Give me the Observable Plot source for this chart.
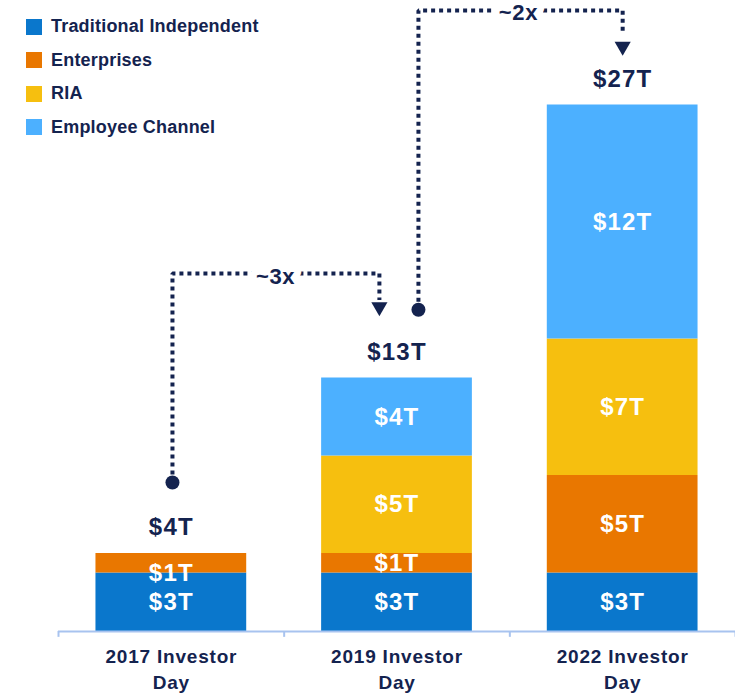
<!DOCTYPE html>
<html><head><meta charset="utf-8">
<script src="https://cdn.jsdelivr.net/npm/d3@7"></script>
<script src="https://cdn.jsdelivr.net/npm/@observablehq/plot@0.6"></script>
<style>
body{margin:0;background:#fff;font-family:"Liberation Sans",Arial,sans-serif;}
#wrap{position:relative;width:735px;height:697px;}
#legend{position:absolute;left:26px;top:18px;}
.row{display:flex;align-items:center;height:33.5px;margin-top:-8px;margin-bottom:8px;}
.sw{width:16px;height:16px;margin-right:9px;}
.lab{font-size:18px;font-weight:bold;color:#14234f;letter-spacing:0.2px;}
.barlab text{letter-spacing:1.2px;}
.axlab text{letter-spacing:0.8px;}
.glab text{letter-spacing:0.6px;}
</style></head><body><div id="wrap"><div id="legend"></div></div>
<script>
const categories = ["2017 Investor\nDay", "2019 Investor\nDay", "2022 Investor\nDay"];
const seriesNames = ["Traditional Independent", "Enterprises", "RIA", "Employee Channel"];
const traditional = [3, 3, 3];
const enterprises = [1, 1, 5];
const ria = [0, 5, 7];
const employee = [0, 4, 12];
const totals = [4, 13, 27];
const colors = ["#0a77cc", "#e97700", "#f6bf0f", "#4cb0ff"];
const navy = "#14234f";
// growth annotations (data coordinates: x = category index, y = $T)
const growthLabels = ["~3x", "~2x"];
const growthPaths = [
  [{x: 0.005, y: 7.64}, {x: 0.005, y: 18.36}, {x: 0.922, y: 18.36}, {x: 0.922, y: 17.0}],
  [{x: 1.095, y: 16.5}, {x: 1.095, y: 31.85}, {x: 2.0, y: 31.85}, {x: 2.0, y: 30.7}]
];
const growthLabelPos = [{x: 0.462, y: 18.36}, {x: 1.538, y: 31.85}];
const arrowTips = [{x: 0.922, y: 16.65}, {x: 2.0, y: 30.0}];

const seriesValues = [traditional, enterprises, ria, employee];
const rows = [];
categories.forEach((c, i) => {
  let acc = 0;
  seriesValues.forEach((vals, s) => {
    const v = vals[i];
    if (v > 0) rows.push({i, s, v, y1: acc, y2: acc + v});
    acc += v;
  });
});
const half = 0.334;

const chart = Plot.plot({
  width: 735, height: 697,
  marginTop: 7, marginBottom: 66, marginLeft: 58, marginRight: 0,
  x: {domain: [-0.5, 2.5], axis: null},
  y: {domain: [0, 32], axis: null},
  style: {fontFamily: "'Liberation Sans', Arial, sans-serif", background: "#fff", overflow: "visible"},
  marks: [
    Plot.rect(rows, {x1: d => d.i - half, x2: d => d.i + half, y1: "y1", y2: "y2", fill: d => colors[d.s]}),
    Plot.text(rows, {x: "i", y: d => (d.y1 + d.y2) / 2, text: d => `$${d.v}T`, dy: 0, fill: "white", fontSize: 24, fontWeight: "bold", className: "barlab",
      filter: d => !(d.i === 0 && d.s === 1)}),
    Plot.text(rows, {x: "i", y: "y1", text: d => `$${d.v}T`, fill: "white", fontSize: 24, fontWeight: "bold", className: "barlab",
      filter: d => d.i === 0 && d.s === 1}),
    Plot.text(totals, {x: (d, i) => i, y: d => d, text: d => `$${d}T`, dy: -26, fill: navy, fontSize: 24, fontWeight: "bold", className: "barlab"}),
    Plot.ruleY([0], {stroke: "#a8c3ef", strokeWidth: 2}),
    Plot.ruleX([-0.5, 0.5, 1.5, 2.5], {y1: 0, y2: -0.3, stroke: "#a8c3ef", strokeWidth: 2}),
    Plot.text(categories, {x: (d, i) => i, y: 0, text: d => d, dy: 13, lineAnchor: "top", lineHeight: 1.38, fill: navy, fontSize: 19, fontWeight: "bold", className: "axlab"}),
    ...growthPaths.map(p => Plot.line(p, {x: "x", y: "y", stroke: navy, strokeWidth: 4, strokeDasharray: "4 4", strokeLinejoin: "miter", strokeLinecap: "butt"})),
    Plot.dot(growthPaths.map(p => p[0]), {x: "x", y: "y", r: 7, fill: navy}),
    Plot.dot(arrowTips, {x: "x", y: "y", symbol: "triangle", rotate: 180, r: 6, fill: navy}),
    Plot.text(growthLabelPos, {x: "x", y: "y", text: (d, i) => growthLabels[i], fill: navy, stroke: "white", strokeWidth: 14, fontSize: 22, fontWeight: "bold", dy: 3, className: "glab"})
  ]
});
document.getElementById("wrap").prepend(chart);
chart.style.position = "absolute"; chart.style.left = "0"; chart.style.top = "0";

const legend = document.getElementById("legend");
seriesNames.forEach((n, i) => {
  const r = document.createElement("div"); r.className = "row";
  r.innerHTML = `<div class="sw" style="background:${colors[i]}"></div><div class="lab">${n}</div>`;
  legend.appendChild(r);
});
</script></body></html>
